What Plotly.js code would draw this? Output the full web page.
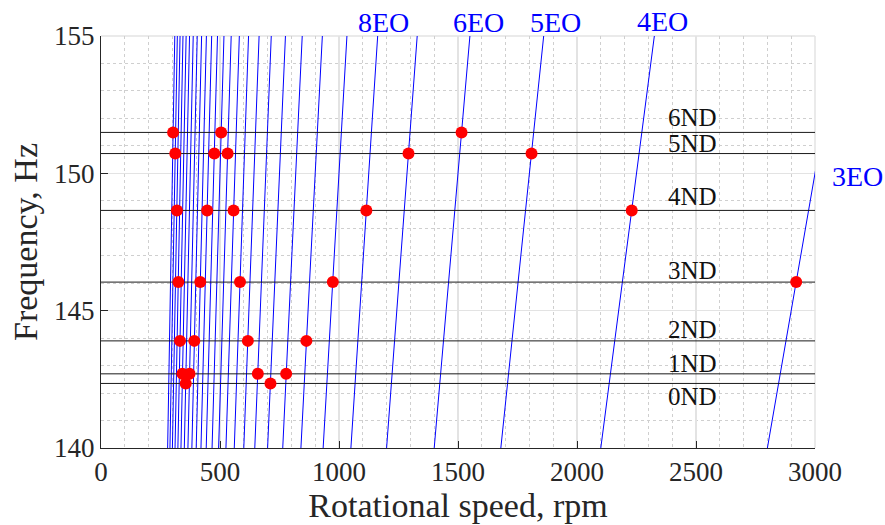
<!DOCTYPE html>
<html>
<head>
<meta charset="utf-8">
<script src="https://cdn.plot.ly/plotly-3.0.1.min.js"></script>
<style>html,body{margin:0;padding:0;background:#fff;}#chart{width:885px;height:525px;}</style>
</head>
<body>
<div id="chart"></div>
<script>
// Engine order lines (frequency = EO * rpm / 60)
const eoOrders = [3,4,5,6,7,8,9,10,11,12,13,14,15,16,17,18,19,20,21,22,23,24,25,26,27,28,29,30];
const eoLabels = ['8EO','6EO','5EO','4EO','3EO'];
// label placement in paper fractions of the plot area
const eoLabelPX = [0.395, 0.529, 0.636, 0.786, 1.059];
const eoLabelPY = [1.032, 1.032, 1.032, 1.035, 0.658];

// Nodal diameter frequencies
const ndLabels = ['0ND','1ND','2ND','3ND','4ND','5ND','6ND'];
const ndFreqs  = [142.35, 142.70, 143.90, 146.04, 148.65, 150.72, 151.49];
const ndLabelX = [2485, 2485, 2485, 2485, 2485, 2485, 2485];
const ndLabelY = [141.87, 143.08, 144.33, 146.45, 149.14, 151.07, 152.05];

// Crossing points (rpm) read for each nodal diameter
const cross0ND = [356, 712];
const cross1ND = [342, 372, 659, 778];
const cross2ND = [332, 392, 617, 863];
const cross3ND = [325, 417, 584, 974, 2921];
const cross4ND = [319, 446, 557, 1115, 2230];
const cross5ND = [312, 476, 532, 1292, 1809];
const cross6ND = [303, 505, 1515];
const crossings = [cross0ND, cross1ND, cross2ND, cross3ND, cross4ND, cross5ND, cross6ND];

const xTickVals = [0, 500, 1000, 1500, 2000, 2500, 3000];
const yTickVals = [140, 145, 150, 155];
const xRange = [0, 3000];
const yRange = [140, 155];

const FONT = 'Liberation Serif';
const traces = [];

// EO lines
eoOrders.forEach(eo => {
  const ys = [yRange[0] - 1, yRange[1] + 1];
  traces.push({
    type: 'scatter', mode: 'lines',
    x: ys.map(f => f * 60 / eo), y: ys,
    line: {color: '#0000ff', width: 1},
    hoverinfo: 'skip', showlegend: false
  });
});

// ND lines
ndFreqs.forEach(f => {
  traces.push({
    type: 'scatter', mode: 'lines',
    x: xRange, y: [f, f],
    line: {color: '#1a1a1a', width: 1},
    hoverinfo: 'skip', showlegend: false
  });
});

// Crossing dots
const dx = [], dy = [];
crossings.forEach((arr, i) => arr.forEach(r => { dx.push(r); dy.push(ndFreqs[i]); }));
traces.push({
  type: 'scatter', mode: 'markers', x: dx, y: dy,
  marker: {color: '#ff0000', size: 12},
  showlegend: false, cliponaxis: false
});

const annotations = [];
eoLabels.forEach((t, i) => annotations.push({
  x: eoLabelPX[i], y: eoLabelPY[i], xref: 'paper', yref: 'paper', text: t, showarrow: false,
  font: {family: FONT, size: 28, color: '#0000ff'}, xanchor: 'center', yanchor: 'middle'
}));
ndLabels.forEach((t, i) => annotations.push({
  x: ndLabelX[i], y: ndLabelY[i], xref: 'x', yref: 'y', text: t, showarrow: false,
  font: {family: FONT, size: 25, color: '#111'}, xanchor: 'center', yanchor: 'middle'
}));

const layout = {
  width: 885, height: 525,
  margin: {l: 101, r: 70, t: 36, b: 77},
  paper_bgcolor: '#fff', plot_bgcolor: '#fff',
  font: {family: FONT, color: '#262626', size: 27},
  showlegend: false,
  xaxis: {
    range: xRange, tickvals: xTickVals, ticks: 'inside', ticklen: 7, tickcolor: '#262626',
    showline: true, linecolor: '#262626', linewidth: 1, zeroline: false,
    showgrid: true, gridcolor: '#e3e3e3', gridwidth: 1.5,
    minor: {dtick: 100, showgrid: true, gridcolor: '#cfcfcf', griddash: 'dot', gridwidth: 1},
    tickfont: {family: FONT, size: 27, color: '#262626'},
    title: {text: 'Rotational speed, rpm', font: {family: FONT, size: 34, color: '#262626'}, standoff: 6}
  },
  yaxis: {
    range: yRange, tickvals: yTickVals, ticks: 'inside', ticklen: 7, tickcolor: '#262626',
    showline: true, linecolor: '#262626', linewidth: 1, zeroline: false,
    showgrid: true, gridcolor: '#e3e3e3', gridwidth: 1.5,
    minor: {dtick: 1, showgrid: true, gridcolor: '#cfcfcf', griddash: 'dot', gridwidth: 1},
    tickfont: {family: FONT, size: 27, color: '#262626'},
    title: {text: 'Frequency, Hz', font: {family: FONT, size: 34, color: '#262626'}, standoff: 6}
  },
  shapes: [
    {type: 'line', xref: 'paper', yref: 'paper', x0: 0, x1: 1, y0: 1, y1: 1, layer: 'below',
     line: {color: '#e3e3e3', width: 1.5}},
    {type: 'line', xref: 'paper', yref: 'paper', x0: 1, x1: 1, y0: 0, y1: 1, layer: 'below',
     line: {color: '#e3e3e3', width: 1.5}}
  ],
  annotations: annotations
};

Plotly.newPlot('chart', traces, layout, {displayModeBar: false, staticPlot: true});
</script>
</body>
</html>
